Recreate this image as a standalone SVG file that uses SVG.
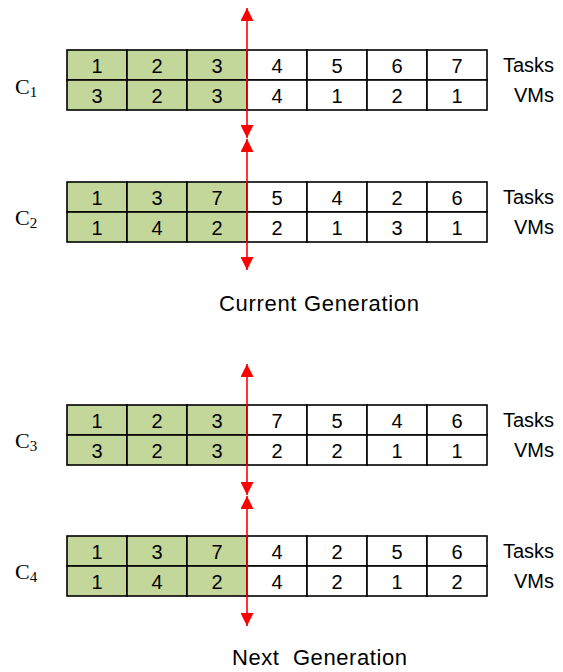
<svg xmlns="http://www.w3.org/2000/svg" width="563" height="672" viewBox="0 0 563 672">
<style>
.g{fill:#C4D79B;stroke:#000;stroke-width:1.6}
.w{fill:#fff;stroke:#000;stroke-width:1.6}
.d{font-family:"Liberation Sans",Arial,sans-serif;font-size:20px;text-anchor:middle;fill:#000}
.lb{font-family:"Liberation Sans",Arial,sans-serif;font-size:20px;text-anchor:end;fill:#000}
.c{font-family:"Liberation Serif","Times New Roman",serif;font-size:22px;fill:#000}
.cs{font-family:"Liberation Serif","Times New Roman",serif;font-size:15px;fill:#000}
.t{font-family:"Liberation Sans",Arial,sans-serif;font-size:22px;text-anchor:middle;fill:#000}
.ar{stroke:#FF0000;stroke-width:1.6;fill:none;marker-start:url(#ah);marker-end:url(#ah)}
</style>
<defs>
<marker id="ah" viewBox="0 0 13 13" refX="13" refY="6.5" markerWidth="13" markerHeight="13" markerUnits="userSpaceOnUse" orient="auto-start-reverse">
<path d="M0,0 L13,6.5 L0,13 z" fill="#FF0000"/>
</marker>
</defs>

<g id="c1">
<rect class="g" x="67" y="50" width="60" height="30"/><rect class="g" x="127" y="50" width="60" height="30"/><rect class="g" x="187" y="50" width="60" height="30"/>
<rect class="w" x="247" y="50" width="60" height="30"/><rect class="w" x="307" y="50" width="60" height="30"/><rect class="w" x="367" y="50" width="60" height="30"/><rect class="w" x="427" y="50" width="60" height="30"/>
<rect class="g" x="67" y="80" width="60" height="30"/><rect class="g" x="127" y="80" width="60" height="30"/><rect class="g" x="187" y="80" width="60" height="30"/>
<rect class="w" x="247" y="80" width="60" height="30"/><rect class="w" x="307" y="80" width="60" height="30"/><rect class="w" x="367" y="80" width="60" height="30"/><rect class="w" x="427" y="80" width="60" height="30"/>
<text class="d" x="97" y="73">1</text><text class="d" x="157" y="73">2</text><text class="d" x="217" y="73">3</text><text class="d" x="277" y="73">4</text><text class="d" x="337" y="73">5</text><text class="d" x="397" y="73">6</text><text class="d" x="457" y="73">7</text>
<text class="d" x="97" y="103">3</text><text class="d" x="157" y="103">2</text><text class="d" x="217" y="103">3</text><text class="d" x="277" y="103">4</text><text class="d" x="337" y="103">1</text><text class="d" x="397" y="103">2</text><text class="d" x="457" y="103">1</text>
<text class="lb" x="554" y="72">Tasks</text><text class="lb" x="554" y="102">VMs</text>
<text class="c" x="15" y="94">C<tspan class="cs" dy="3">1</tspan></text>
</g>

<g id="c2">
<rect class="g" x="67" y="182" width="60" height="30"/><rect class="g" x="127" y="182" width="60" height="30"/><rect class="g" x="187" y="182" width="60" height="30"/>
<rect class="w" x="247" y="182" width="60" height="30"/><rect class="w" x="307" y="182" width="60" height="30"/><rect class="w" x="367" y="182" width="60" height="30"/><rect class="w" x="427" y="182" width="60" height="30"/>
<rect class="g" x="67" y="212" width="60" height="30"/><rect class="g" x="127" y="212" width="60" height="30"/><rect class="g" x="187" y="212" width="60" height="30"/>
<rect class="w" x="247" y="212" width="60" height="30"/><rect class="w" x="307" y="212" width="60" height="30"/><rect class="w" x="367" y="212" width="60" height="30"/><rect class="w" x="427" y="212" width="60" height="30"/>
<text class="d" x="97" y="205">1</text><text class="d" x="157" y="205">3</text><text class="d" x="217" y="205">7</text><text class="d" x="277" y="205">5</text><text class="d" x="337" y="205">4</text><text class="d" x="397" y="205">2</text><text class="d" x="457" y="205">6</text>
<text class="d" x="97" y="235">1</text><text class="d" x="157" y="235">4</text><text class="d" x="217" y="235">2</text><text class="d" x="277" y="235">2</text><text class="d" x="337" y="235">1</text><text class="d" x="397" y="235">3</text><text class="d" x="457" y="235">1</text>
<text class="lb" x="554" y="204">Tasks</text><text class="lb" x="554" y="234">VMs</text>
<text class="c" x="15" y="225">C<tspan class="cs" dy="3">2</tspan></text>
</g>

<g id="c3">
<rect class="g" x="67" y="405" width="60" height="30"/><rect class="g" x="127" y="405" width="60" height="30"/><rect class="g" x="187" y="405" width="60" height="30"/>
<rect class="w" x="247" y="405" width="60" height="30"/><rect class="w" x="307" y="405" width="60" height="30"/><rect class="w" x="367" y="405" width="60" height="30"/><rect class="w" x="427" y="405" width="60" height="30"/>
<rect class="g" x="67" y="435" width="60" height="30"/><rect class="g" x="127" y="435" width="60" height="30"/><rect class="g" x="187" y="435" width="60" height="30"/>
<rect class="w" x="247" y="435" width="60" height="30"/><rect class="w" x="307" y="435" width="60" height="30"/><rect class="w" x="367" y="435" width="60" height="30"/><rect class="w" x="427" y="435" width="60" height="30"/>
<text class="d" x="97" y="428">1</text><text class="d" x="157" y="428">2</text><text class="d" x="217" y="428">3</text><text class="d" x="277" y="428">7</text><text class="d" x="337" y="428">5</text><text class="d" x="397" y="428">4</text><text class="d" x="457" y="428">6</text>
<text class="d" x="97" y="458">3</text><text class="d" x="157" y="458">2</text><text class="d" x="217" y="458">3</text><text class="d" x="277" y="458">2</text><text class="d" x="337" y="458">2</text><text class="d" x="397" y="458">1</text><text class="d" x="457" y="458">1</text>
<text class="lb" x="554" y="427">Tasks</text><text class="lb" x="554" y="457">VMs</text>
<text class="c" x="15" y="448">C<tspan class="cs" dy="3">3</tspan></text>
</g>

<g id="c4">
<rect class="g" x="67" y="536" width="60" height="30"/><rect class="g" x="127" y="536" width="60" height="30"/><rect class="g" x="187" y="536" width="60" height="30"/>
<rect class="w" x="247" y="536" width="60" height="30"/><rect class="w" x="307" y="536" width="60" height="30"/><rect class="w" x="367" y="536" width="60" height="30"/><rect class="w" x="427" y="536" width="60" height="30"/>
<rect class="g" x="67" y="566" width="60" height="30"/><rect class="g" x="127" y="566" width="60" height="30"/><rect class="g" x="187" y="566" width="60" height="30"/>
<rect class="w" x="247" y="566" width="60" height="30"/><rect class="w" x="307" y="566" width="60" height="30"/><rect class="w" x="367" y="566" width="60" height="30"/><rect class="w" x="427" y="566" width="60" height="30"/>
<text class="d" x="97" y="559">1</text><text class="d" x="157" y="559">3</text><text class="d" x="217" y="559">7</text><text class="d" x="277" y="559">4</text><text class="d" x="337" y="559">2</text><text class="d" x="397" y="559">5</text><text class="d" x="457" y="559">6</text>
<text class="d" x="97" y="589">1</text><text class="d" x="157" y="589">4</text><text class="d" x="217" y="589">2</text><text class="d" x="277" y="589">4</text><text class="d" x="337" y="589">2</text><text class="d" x="397" y="589">1</text><text class="d" x="457" y="589">2</text>
<text class="lb" x="554" y="558">Tasks</text><text class="lb" x="554" y="588">VMs</text>
<text class="c" x="15" y="579">C<tspan class="cs" dy="3">4</tspan></text>
</g>

<g id="connectors">
<line class="ar" x1="247" y1="8" x2="247" y2="138"/>
<line class="ar" x1="247" y1="139" x2="247" y2="270"/>
<line class="ar" x1="247" y1="364" x2="247" y2="495"/>
<line class="ar" x1="247" y1="496" x2="247" y2="626"/>
</g>

<g id="captions">
<text class="t" x="319" y="311" textLength="200" lengthAdjust="spacing">Current Generation</text>
<text class="t" x="319.5" y="665" textLength="175" lengthAdjust="spacing" xml:space="preserve">Next  Generation</text>
</g>
</svg>
